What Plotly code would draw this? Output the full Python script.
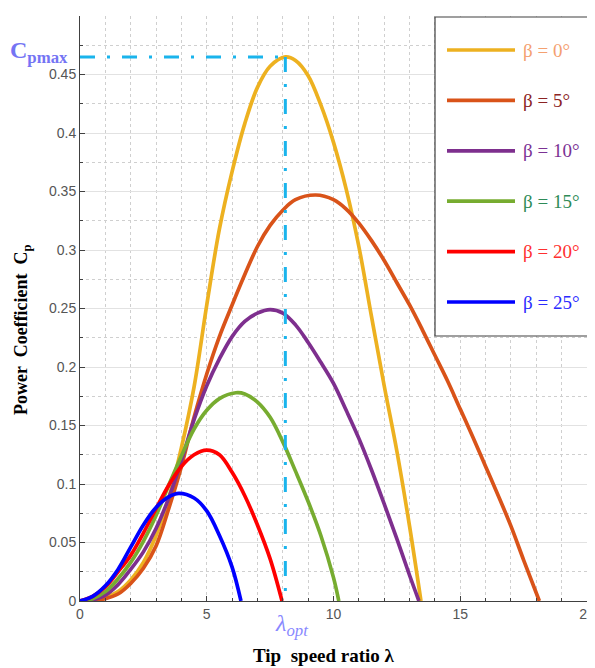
import plotly.graph_objects as go

# ---------------- data ----------------
lam_b0 = [0, 0.5, 1.0, 1.5, 2.0, 2.5, 3.0, 3.5, 4.0, 4.5, 5.0, 5.5, 6.0, 6.5, 7.0, 7.5, 8.1, 8.5, 9.0, 9.5, 10.0, 10.5, 11.0, 11.5, 12.0, 12.5, 13.0, 13.45]
cp_b0 = [0, 0.001, 0.003, 0.008, 0.018, 0.033, 0.056, 0.088, 0.131, 0.183, 0.253, 0.318, 0.367, 0.408, 0.439, 0.457, 0.465, 0.462, 0.449, 0.424, 0.392, 0.352, 0.303, 0.243, 0.184, 0.128, 0.064, 0]

lam_b5 = [0, 0.5, 1.0, 1.5, 2.0, 2.5, 3.0, 3.5, 4.0, 4.5, 5.0, 5.5, 6.0, 6.5, 7.0, 7.5, 8.0, 8.5, 9.3, 10.0, 10.5, 11.0, 11.5, 12.0, 12.5, 13.0, 13.5, 14.0, 14.5, 15.0, 15.5, 16.0, 16.5, 17.0, 17.5, 18.12]
cp_b5 = [0, 0.0005, 0.002, 0.006, 0.015, 0.028, 0.047, 0.079, 0.115, 0.157, 0.194, 0.226, 0.253, 0.279, 0.303, 0.321, 0.334, 0.343, 0.347, 0.343, 0.335, 0.323, 0.308, 0.291, 0.272, 0.253, 0.232, 0.210, 0.188, 0.164, 0.140, 0.115, 0.090, 0.064, 0.035, 0]

lam_b10 = [0, 0.5, 1.0, 1.5, 2.0, 2.5, 3.0, 3.5, 4.0, 4.5, 5.0, 5.5, 6.0, 6.5, 7.0, 7.5, 8.0, 8.5, 9.0, 9.5, 10.0, 10.5, 11.0, 11.5, 12.0, 12.5, 13.0, 13.37]
cp_b10 = [0, 0.001, 0.005, 0.014, 0.027, 0.042, 0.062, 0.088, 0.120, 0.155, 0.184, 0.207, 0.226, 0.239, 0.246, 0.249, 0.246, 0.236, 0.221, 0.204, 0.186, 0.163, 0.139, 0.112, 0.083, 0.053, 0.022, 0]

lam_b15 = [0, 0.5, 1.0, 1.5, 2.0, 2.5, 3.0, 3.5, 4.0, 4.5, 5.0, 5.5, 6.15, 6.5, 7.0, 7.5, 8.0, 8.5, 9.0, 9.5, 10.0, 10.21]
cp_b15 = [0, 0.002, 0.008, 0.019, 0.033, 0.051, 0.073, 0.099, 0.124, 0.147, 0.163, 0.173, 0.178, 0.177, 0.170, 0.157, 0.136, 0.111, 0.085, 0.056, 0.020, 0]

lam_b20 = [0, 0.5, 1.0, 1.5, 2.0, 2.5, 3.0, 3.5, 4.0, 4.5, 5.0, 5.5, 6.0, 6.5, 7.0, 7.5, 7.97]
cp_b20 = [0, 0.004, 0.012, 0.025, 0.039, 0.058, 0.079, 0.099, 0.115, 0.125, 0.129, 0.125, 0.110, 0.090, 0.065, 0.036, 0]

lam_b25 = [0, 0.5, 1.0, 1.5, 2.0, 2.5, 3.0, 3.5, 3.9, 4.5, 5.0, 5.5, 6.0, 6.35]
cp_b25 = [0, 0.004, 0.013, 0.027, 0.046, 0.065, 0.080, 0.089, 0.092, 0.088, 0.077, 0.056, 0.029, 0]

LAMBDA_OPT = 8.1
CP_MAX = 0.465

series_names = ["β = 0°", "β = 5°", "β = 10°", "β = 15°", "β = 20°", "β = 25°"]
series_lam = [lam_b0, lam_b5, lam_b10, lam_b15, lam_b20, lam_b25]
series_cp = [cp_b0, cp_b5, cp_b10, cp_b15, cp_b20, cp_b25]
line_colors = ["#EDB120", "#D95319", "#7E2F8E", "#77AC30", "#FF0000", "#0000FF"]
text_colors = ["#F4A070", "#8B2323", "#7B3294", "#2E8B57", "#FF3030", "#2B2BFF"]

x_ticks = [0, 5, 10, 15, 20]
y_ticks = [0, 0.05, 0.1, 0.15, 0.2, 0.25, 0.3, 0.35, 0.4, 0.45, 0.5]

# ---------------- figure ----------------
# the page's default body margin (8px) offsets the figure; compensate
OFF = 8
W, H = 595 - OFF, 668 - OFF
ML, MR, MT, MB = 80 - OFF, 8, 16 - OFF, 67
PW, PH = W - ML - MR, H - MT - MB


def px(xp):
    return (xp - OFF - ML) / PW


def py(yp):
    return (H - MB - (yp - OFF)) / PH


fig = go.Figure()
for name, lx, cy, col in zip(series_names, series_lam, series_cp, line_colors):
    fig.add_trace(go.Scatter(x=lx, y=cy, mode="lines", name=name,
                             line=dict(color=col, width=3.7, shape="spline", smoothing=1.0),
                             showlegend=False))

dash = "15px,12px,3px,12px"
fig.add_trace(go.Scatter(x=[0, LAMBDA_OPT], y=[CP_MAX, CP_MAX], mode="lines",
                         line=dict(color="#1AB4EC", width=3, dash=dash), showlegend=False))
fig.add_trace(go.Scatter(x=[LAMBDA_OPT, LAMBDA_OPT], y=[CP_MAX, 0], mode="lines",
                         line=dict(color="#1AB4EC", width=3, dash=dash), showlegend=False))

tick_font = dict(family="Liberation Sans, Arial", size=14, color="#555555")
fig.update_xaxes(range=[0, 20], tickvals=x_ticks, ticks="inside", ticklen=5, tickcolor="#404040",
                 showline=True, linecolor="#404040", linewidth=1, zeroline=False, automargin=False,
                 ticklabeloverflow="allow",
                 showgrid=True, gridcolor="#cfcfcf", griddash="dot", gridwidth=1,
                 minor=dict(dtick=1, tick0=0, showgrid=True, gridcolor="#cfcfcf", griddash="dot",
                            ticks="inside", ticklen=3, tickcolor="#404040"),
                 tickfont=tick_font)
fig.update_yaxes(range=[0, 0.5], tickvals=y_ticks, ticktext=[("%g" % v) for v in y_ticks],
                 ticks="inside", ticklen=5, tickcolor="#404040", automargin=False,
                 showline=True, linecolor="#404040", linewidth=1, zeroline=False,
                 showgrid=True, gridcolor="#e2e2e2", gridwidth=1,
                 minor=dict(dtick=0.025, tick0=0, showgrid=True, gridcolor="#cfcfcf", griddash="dot",
                            ticks="inside", ticklen=3, tickcolor="#404040"),
                 tickfont=tick_font)

# manual legend box
shapes = [dict(type="rect", xref="paper", yref="paper", x0=px(435), x1=px(588), y0=py(336), y1=py(17),
               line=dict(color="#404040", width=1.2), fillcolor="white", layer="above")]
annotations = []
for i, (name, lc, tc) in enumerate(zip(series_names, line_colors, text_colors)):
    yy = 50 + 50.4 * i
    shapes.append(dict(type="line", xref="paper", yref="paper", x0=px(447), x1=px(515), y0=py(yy), y1=py(yy),
                       line=dict(color=lc, width=3.7), layer="above"))
    annotations.append(dict(text=name, xref="paper", yref="paper", x=px(521), y=py(yy),
                            xanchor="left", yanchor="middle", showarrow=False,
                            font=dict(family="Liberation Serif, Times New Roman", size=19, color=tc)))

annotations += [
    dict(text="<b>C<sub>pmax</sub></b>", xref="paper", yref="paper", x=px(8), y=py(52),
         xanchor="left", yanchor="middle", showarrow=False,
         font=dict(family="Liberation Serif, Times New Roman", size=24, color="#7474F4")),
    dict(text="<i>λ<sub>opt</sub></i>", xref="paper", yref="paper", x=px(291), y=py(625),
         xanchor="center", yanchor="middle", showarrow=False,
         font=dict(family="Liberation Serif, Times New Roman", size=24, color="#8888FF")),
    dict(text="<b>Tip  speed ratio λ</b>", xref="paper", yref="paper", x=px(324), y=py(655),
         xanchor="center", yanchor="middle", showarrow=False,
         font=dict(family="Liberation Serif, Times New Roman", size=19, color="black")),
    dict(text="<b>Power  Coefficient  C<sub>p</sub></b>", xref="paper", yref="paper", x=px(22), y=py(330),
         xanchor="center", yanchor="middle", textangle=-90, showarrow=False,
         font=dict(family="Liberation Serif, Times New Roman", size=18, color="black")),
]

fig.update_layout(width=W, height=H, margin=dict(l=ML, r=MR, t=MT, b=MB),
                  paper_bgcolor="white", plot_bgcolor="white",
                  shapes=shapes, annotations=annotations, showlegend=False)

fig.write_html("out.html")
